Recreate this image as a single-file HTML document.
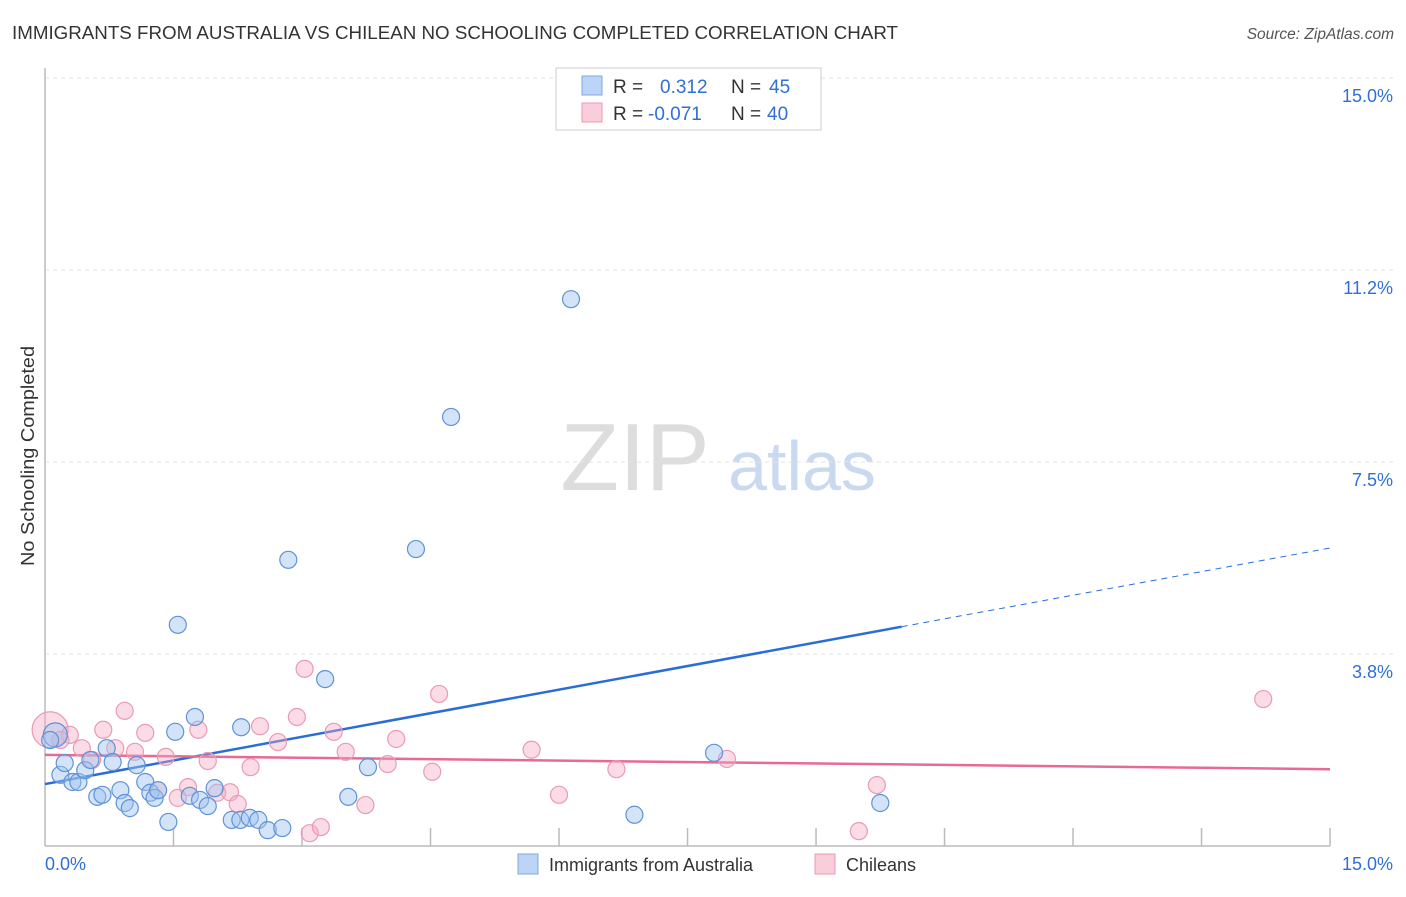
<!DOCTYPE html>
<html><head><meta charset="utf-8"><style>
body{margin:0;background:#fff;font-family:"Liberation Sans",sans-serif;}
svg text{font-family:"Liberation Sans",sans-serif;}
</style></head><body>
<svg id="chart" width="1406" height="892" viewBox="0 0 1406 892" xmlns="http://www.w3.org/2000/svg">
<text x="12" y="39" font-size="18" fill="#333" textLength="886" lengthAdjust="spacingAndGlyphs">IMMIGRANTS FROM AUSTRALIA VS CHILEAN NO SCHOOLING COMPLETED CORRELATION CHART</text>
<text x="1394" y="39" font-size="15.5" fill="#555" text-anchor="end" font-style="italic">Source: ZipAtlas.com</text>
<text transform="translate(34,456) rotate(-90)" font-size="18" fill="#333" text-anchor="middle" textLength="220" lengthAdjust="spacingAndGlyphs">No Schooling Completed</text>
<g>
<text x="635" y="490" font-size="96" fill="#ddd" text-anchor="middle" font-family="Liberation Serif,serif">ZIP</text>
<text x="802" y="490" font-size="70" fill="#c9d9ef" text-anchor="middle">atlas</text>
</g>
<g id="grid"></g><g id="axes"></g><g id="trends"></g><g id="points"></g>
<g>
<rect x="556" y="68" width="265" height="62" fill="#fff" stroke="#ccc"/>
<rect x="582" y="76" width="20" height="19" fill="#bcd4f5" stroke="#7fa6e0"/>
<text x="613" y="93" font-size="19" fill="#333">R =</text><text x="660" y="93" font-size="19" fill="#2f6fd6">0.312</text>
<text x="731" y="93" font-size="19" fill="#333">N =</text><text x="769" y="93" font-size="19" fill="#2f6fd6">45</text>
<rect x="582" y="103" width="20" height="19" fill="#f9cdd9" stroke="#ec98b0"/>
<text x="613" y="120" font-size="19" fill="#333">R =</text><text x="648" y="120" font-size="19" fill="#2f6fd6">-0.071</text>
<text x="731" y="120" font-size="19" fill="#333">N =</text><text x="767" y="120" font-size="19" fill="#2f6fd6">40</text>
</g>
<g>
<rect x="518" y="854" width="20" height="20" fill="#bcd4f5" stroke="#7fa6e0"/>
<text x="549" y="871" font-size="18" fill="#333">Immigrants from Australia</text>
<rect x="815" y="854" width="20" height="20" fill="#f9cdd9" stroke="#ec98b0"/>
<text x="846" y="871" font-size="18" fill="#333">Chileans</text>
</g>
</svg>
<script>
const yTicks=[3.75,7.5,11.25,15];
const yTickLabels=["3.8%","7.5%","11.2%","15.0%"];
const blueX=[0.12,0.18,0.23,0.32,0.39,0.47,0.53,0.61,0.67,0.72,0.79,0.88,0.93,0.99,1.07,1.17,1.23,1.28,1.32,1.44,1.52,1.55,1.69,1.75,1.81,1.90,1.98,2.18,2.28,2.29,2.39,2.49,2.60,2.77,2.84,3.27,3.54,3.77,4.33,4.74,6.14,6.88,7.81,9.75,0.06];
const blueY=[2.17,1.39,1.62,1.25,1.25,1.48,1.68,0.96,1.00,1.91,1.64,1.09,0.84,0.74,1.58,1.25,1.04,0.94,1.09,0.47,2.23,4.32,0.98,2.52,0.90,0.78,1.13,0.51,0.51,2.32,0.55,0.51,0.31,0.35,5.59,3.26,0.96,1.54,5.80,8.38,10.68,0.61,1.82,0.84,2.07];
const pinkX=[0.06,0.29,0.43,0.55,0.68,0.82,0.93,1.05,1.17,1.32,1.41,1.55,1.67,1.79,1.90,2.01,2.16,2.25,2.40,2.51,2.72,2.94,3.03,3.09,3.22,3.37,3.51,3.74,4.00,4.10,4.52,4.60,5.68,6.00,6.67,7.96,9.50,9.71,14.22,0.18];
const pinkY=[2.27,2.17,1.91,1.68,2.27,1.91,2.64,1.84,2.21,1.09,1.74,0.94,1.15,2.27,1.66,1.04,1.05,0.82,1.54,2.34,2.03,2.52,3.46,0.25,0.37,2.23,1.84,0.80,1.60,2.09,1.45,2.97,1.88,1.00,1.50,1.70,0.29,1.19,2.87,2.07];
const blueTrend=[1.21,5.82];
const pinkTrend=[1.78,1.50];
const NS="http://www.w3.org/2000/svg";
const X=v=>45+v*85.67, Y=v=>846-v*51.2;
function mk(t,a,p){const e=document.createElementNS(NS,t);for(const k in a)e.setAttribute(k,a[k]);document.getElementById(p).appendChild(e);return e;}
yTicks.forEach((t,i)=>{
 const g=mk('line',{x1:45,x2:1394,y1:Y(t),y2:Y(t),stroke:'#e2e2e2','stroke-dasharray':'4,4'},'grid');
 
 
 const l=mk('text',{x:1393,y:Y(t)+24,'font-size':18,fill:'#2f6fd6','text-anchor':'end'},'grid');l.textContent=yTickLabels[i];
 
 
});
const ax=mk('line',{x1:45,x2:45,y1:68,y2:846,stroke:'#bbb','stroke-width':1.5},'axes');


const bx=mk('line',{x1:45,x2:1330,y1:846,y2:846,stroke:'#bbb','stroke-width':1.5},'axes');


for(let i=1;i<=10;i++){const t=mk('line',{x1:X(i*1.5),x2:X(i*1.5),y1:828,y2:846,stroke:'#bbb','stroke-width':1.5},'axes');
 
 }
const x0=mk('text',{x:45,y:870,'font-size':18,fill:'#2f6fd6'},'axes');x0.textContent='0.0%';


const x1=mk('text',{x:1393,y:870,'font-size':18,fill:'#2f6fd6','text-anchor':'end'},'axes');x1.textContent='15.0%';


pinkX.forEach((x,i)=>{const c=mk('circle',{cx:X(x),cy:Y(pinkY[i]),r:i===0?18:8.5,fill:'rgba(246,168,192,0.4)',stroke:'#eb9ab2','stroke-width':1.2},'points');
 
 });
blueX.forEach((x,i)=>{const c=mk('circle',{cx:X(x),cy:Y(blueY[i]),r:i===0?12:8.5,fill:'rgba(160,196,240,0.45)',stroke:'#5f92d8','stroke-width':1.2},'points');
 
 });
const bAt=x=>blueTrend[0]+(blueTrend[1]-blueTrend[0])*x/15;
const t1=mk('line',{x1:X(0),y1:Y(bAt(0)),x2:X(10),y2:Y(bAt(10)),stroke:'#2a6dd6','stroke-width':2.5},'trends');


const t2=mk('line',{x1:X(10),y1:Y(bAt(10)),x2:X(15),y2:Y(bAt(15)),stroke:'#2a6dd6','stroke-width':1,'stroke-dasharray':'6,5'},'trends');


const t3=mk('line',{x1:X(0),y1:Y(pinkTrend[0]),x2:X(15),y2:Y(pinkTrend[1]),stroke:'#e86a93','stroke-width':2.5},'trends');


</script>
</body></html>
